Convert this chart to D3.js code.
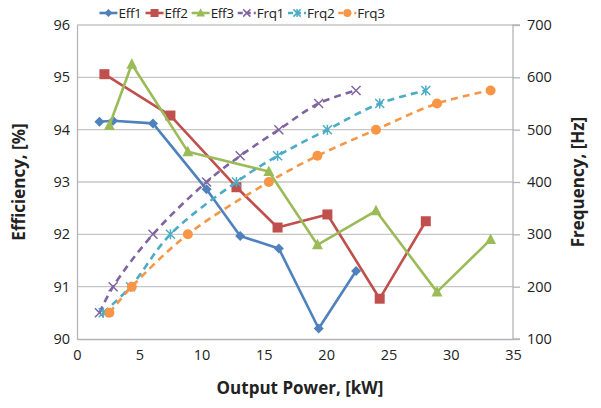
<!DOCTYPE html>
<html><head><meta charset="utf-8">
<script src="https://cdn.jsdelivr.net/npm/d3@7"></script>
<style>body{margin:0;background:#fff;font-family:"Open Sans",sans-serif;}</style>
</head><body><svg id="c" width="601" height="408"></svg>
<script>
// Data
const eff1X = [1.8, 2.9, 6.1, 10.4, 13.1, 16.2, 19.4, 22.4];
const eff1Y = [94.15, 94.17, 94.12, 92.86, 91.97, 91.73, 90.2, 91.3];
const eff2X = [2.2, 7.5, 12.8, 16.1, 20.1, 24.3, 28.0];
const eff2Y = [95.06, 94.27, 92.9, 92.13, 92.38, 90.77, 92.25];
const eff3X = [2.6, 4.4, 8.9, 15.4, 19.3, 24.0, 28.9, 33.2];
const eff3Y = [94.08, 95.25, 93.58, 93.2, 91.8, 92.45, 90.9, 91.9];
const frq1X = [1.8, 2.9, 6.1, 10.4, 13.1, 16.2, 19.4, 22.4];
const frq1Y = [150, 200, 300, 400, 450, 500, 550, 575];
const frq2X = [2.1, 4.3, 7.5, 12.8, 16.1, 20.1, 24.3, 28.0];
const frq2Y = [150, 200, 300, 400, 450, 500, 550, 575];
const frq3X = [2.6, 4.4, 8.9, 15.4, 19.3, 24.0, 28.9, 33.2];
const frq3Y = [150, 200, 300, 400, 450, 500, 550, 575];
const xTicks = [0, 5, 10, 15, 20, 25, 30, 35];
const effTicks = [90, 91, 92, 93, 94, 95, 96];
const frqTicks = [100, 200, 300, 400, 500, 600, 700];
const seriesNames = ["Eff1", "Eff2", "Eff3", "Frq1", "Frq2", "Frq3"];
const seriesColors = ["#4F81BD", "#C0504D", "#9BBB59", "#8064A2", "#4BACC6", "#F79646"];
const seriesMarkers = ["diamond", "square", "triangle", "x", "asterisk", "circle"];

const L = 77, R = 513, T = 25, B = 339;
const svg = d3.select("#c");
const x = d3.scaleLinear().domain([0, 35]).range([L, R]);
const yL = d3.scaleLinear().domain([90, 96]).range([B, T]);
const yR = d3.scaleLinear().domain([100, 700]).range([B, T]);

// gridlines
svg.append("g").selectAll("line").data(effTicks.slice(1)).join("line")
  .attr("x1", L).attr("x2", R).attr("y1", d => yL(d)).attr("y2", d => yL(d))
  .attr("stroke", "#c6c6c6").attr("stroke-width", 1.3);

// axes
const axL = svg.append("g").attr("transform", `translate(${L},0)`)
  .call(d3.axisLeft(yL).tickValues(effTicks).tickSize(0).tickPadding(7).tickFormat(d3.format("d")));
const axR = svg.append("g").attr("transform", `translate(${R},0)`)
  .call(d3.axisRight(yR).tickValues(frqTicks).tickSize(7).tickPadding(7).tickFormat(d3.format("d")));
const axB = svg.append("g").attr("transform", `translate(0,${B})`)
  .call(d3.axisBottom(x).tickValues(xTicks).tickSize(0).tickPadding(11).tickFormat(d3.format("d")));
[axL, axR, axB].forEach(a => {
  a.selectAll(".domain").attr("stroke", "#b4b4b4").attr("stroke-width", 1.3);
  a.selectAll(".tick line").attr("stroke", "#b4b4b4").attr("stroke-width", 1.3);
  a.selectAll("text").attr("font-family", "Open Sans, sans-serif").attr("font-size", 14.5).attr("fill", "#222");
});
axR.select(".domain").attr("d", `M7,${T}H0V${B}H7`);

// titles
svg.append("text").attr("x", 300).attr("y", 394).attr("text-anchor", "middle")
  .attr("font-weight", "bold").attr("font-size", 17).attr("fill", "#222").text("Output Power, [kW]");
svg.append("text").attr("transform", `translate(25,${(T+B)/2}) rotate(-90)`).attr("text-anchor", "middle")
  .attr("font-weight", "bold").attr("font-size", 17).attr("fill", "#222").text("Efficiency, [%]");
svg.append("text").attr("transform", `translate(584,${(T+B)/2}) rotate(-90)`).attr("text-anchor", "middle")
  .attr("font-weight", "bold").attr("font-size", 17).attr("fill", "#222").text("Frequency, [Hz]");

function marker(g, type, color, cx, cy, s) {
  s = s || 1;
  if (type === "diamond") g.append("path").attr("d", `M${cx},${cy-5*s}L${cx+5*s},${cy}L${cx},${cy+5*s}L${cx-5*s},${cy}Z`).attr("fill", color);
  else if (type === "square") g.append("rect").attr("x", cx-5*s).attr("y", cy-5*s).attr("width", 10*s).attr("height", 10*s).attr("fill", color);
  else if (type === "triangle") g.append("path").attr("d", `M${cx},${cy-6*s}L${cx+5.5*s},${cy+4.5*s}L${cx-5.5*s},${cy+4.5*s}Z`).attr("fill", color);
  else if (type === "circle") g.append("circle").attr("cx", cx).attr("cy", cy).attr("r", 5*s).attr("fill", color);
  else if (type === "x") g.append("path").attr("d", `M${cx-4.5*s},${cy-4.5*s}L${cx+4.5*s},${cy+4.5*s}M${cx-4.5*s},${cy+4.5*s}L${cx+4.5*s},${cy-4.5*s}`).attr("stroke", color).attr("stroke-width", 1.5);
  else if (type === "asterisk") g.append("path").attr("d", `M${cx-4.5*s},${cy-4.5*s}L${cx+4.5*s},${cy+4.5*s}M${cx-4.5*s},${cy+4.5*s}L${cx+4.5*s},${cy-4.5*s}M${cx},${cy-5*s}V${cy+5*s}`).attr("stroke", color).attr("stroke-width", 1.5);
}

const series = [
  {xs: eff1X, ys: eff1Y, y: yL, dash: null},
  {xs: eff2X, ys: eff2Y, y: yL, dash: null},
  {xs: eff3X, ys: eff3Y, y: yL, dash: null},
  {xs: frq1X, ys: frq1Y, y: yR, dash: "7,5"},
  {xs: frq2X, ys: frq2Y, y: yR, dash: "7,5"},
  {xs: frq3X, ys: frq3Y, y: yR, dash: "7,5"}
];
series.forEach((s, i) => {
  const pts = s.xs.map((v, j) => [x(v), s.y(s.ys[j])]);
  const line = d3.line().curve(s.dash ? d3.curveCatmullRom.alpha(0.5) : d3.curveLinear);
  const g = svg.append("g");
  g.append("path").attr("d", line(pts)).attr("fill", "none").attr("stroke", seriesColors[i])
    .attr("stroke-width", 2.6).attr("stroke-dasharray", s.dash).attr("stroke-linejoin", "round");
  pts.forEach(p => marker(g, seriesMarkers[i], seriesColors[i], p[0], p[1]));
});

// legend (laid out sequentially, centred)
const lg = svg.append("g");
let cur = 0;
const cy = 13;
seriesNames.forEach((n, i) => {
  const x0 = cur;
  lg.append("line").attr("x1", x0).attr("x2", x0 + 18).attr("y1", cy).attr("y2", cy)
    .attr("stroke", seriesColors[i]).attr("stroke-width", 2.6).attr("stroke-dasharray", i >= 3 ? "5,3" : null);
  marker(lg, seriesMarkers[i], seriesColors[i], x0 + 9, cy, 0.8);
  const t = lg.append("text").attr("x", x0 + 19).attr("y", cy + 5).attr("font-size", 13.5)
    .attr("letter-spacing", -0.3).attr("fill", "#222").text(n);
  cur = x0 + 19 + t.node().getComputedTextLength() + 4;
});
const total = cur - 4;
lg.attr("transform", `translate(${242 - total / 2},0)`);
</script></body></html>
